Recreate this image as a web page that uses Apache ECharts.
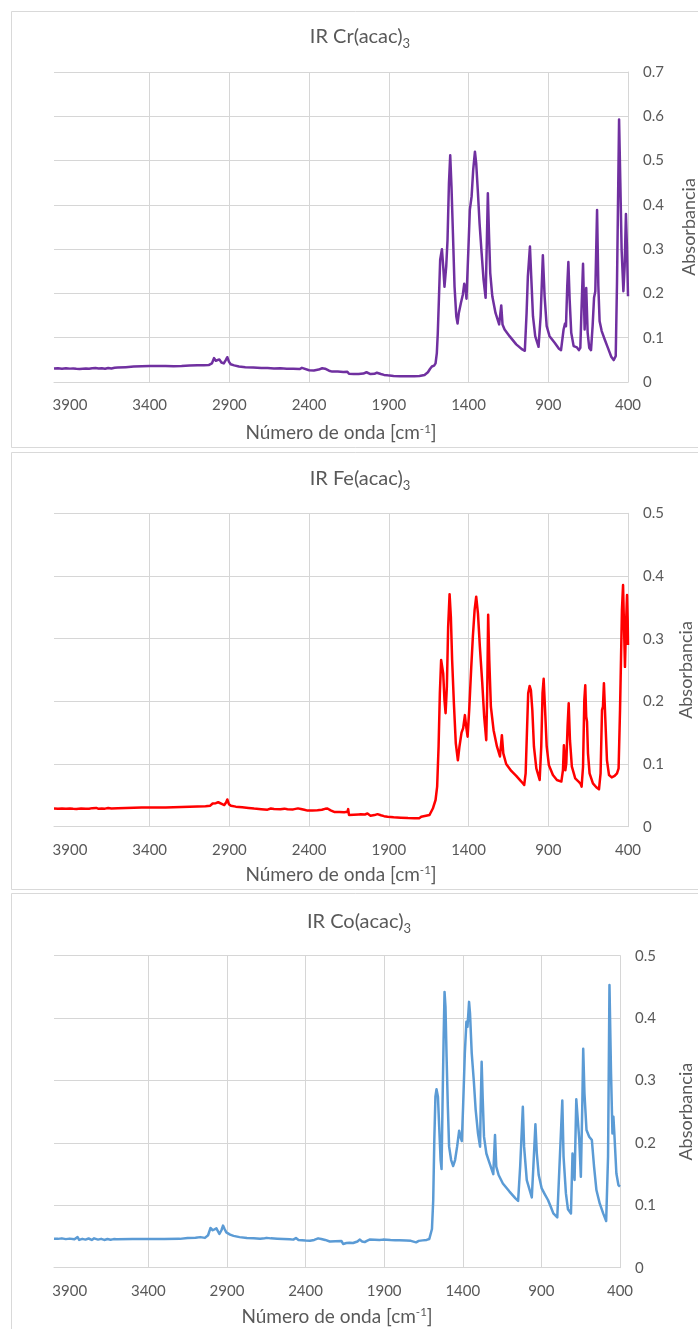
<!DOCTYPE html>
<html>
<head>
<meta charset="utf-8">
<script src="https://cdn.jsdelivr.net/npm/echarts@6/dist/echarts.min.js"></script>
<style>
  html, body { margin: 0; padding: 0; background: #ffffff; }
  #chart { width: 698px; height: 1329px; }
</style>
</head>
<body>
<div id="chart"></div>
<script>
// Wavenumber tick labels shared by the three spectra (cm-1)
const xTickValues = [400, 900, 1400, 1900, 2400, 2900, 3400, 3900];

// Chart titles (rich text: the trailing "3" is a subscript)
const titles = ['IR Cr(acac){sub|3}', 'IR Fe(acac){sub|3}', 'IR Co(acac){sub|3}'];
const xAxisName = 'Número de onda [cm{sup|-1}]';
const yAxisName = 'Absorbancia';

// IR spectrum of Cr(acac)3: [wavenumber cm-1, absorbance]
const crSpectrum = [
  [4000,0.0305],[3975,0.031],[3950,0.030],[3925,0.0308],[3900,0.0302],[3880,0.0305],[3860,0.0298],[3850,0.033],
  [3840,0.0296],[3820,0.030],[3800,0.0305],[3780,0.0298],[3760,0.031],[3740,0.0315],[3730,0.0335],[3720,0.0305],
  [3700,0.0312],[3680,0.030],[3660,0.0318],[3640,0.0305],[3620,0.0322],[3600,0.0325],[3550,0.0335],[3500,0.0348],
  [3450,0.0358],[3400,0.0362],[3350,0.0363],[3300,0.0362],[3250,0.0358],[3200,0.0362],[3150,0.037],[3100,0.0376],
  [3060,0.0378],[3030,0.0383],[3010,0.042],[2996,0.054],[2985,0.048],[2975,0.049],[2963,0.051],[2950,0.044],
  [2935,0.042],[2922,0.050],[2913,0.056],[2903,0.046],[2892,0.040],[2870,0.0375],[2840,0.035],[2800,0.0335],
  [2750,0.0325],[2700,0.0318],[2661,0.0316],[2620,0.0305],[2580,0.0308],[2540,0.030],[2500,0.0298],[2460,0.0292],
  [2445,0.032],[2435,0.0275],[2400,0.0265],[2370,0.0262],[2340,0.028],[2318,0.031],[2300,0.030],[2275,0.0255],
  [2255,0.0235],[2220,0.0235],[2185,0.0228],[2160,0.0232],[2155,0.0265],[2150,0.0185],[2120,0.0182],[2090,0.018],
  [2060,0.019],[2040,0.022],[2030,0.0205],[2015,0.018],[1990,0.0185],[1975,0.021],[1965,0.0195],[1950,0.018],
  [1930,0.016],[1908,0.015],[1870,0.0138],[1830,0.0132],[1780,0.013],[1740,0.0132],[1708,0.0135],[1676,0.016],
  [1655,0.022],[1641,0.030],[1630,0.035],[1616,0.037],[1607,0.042],[1599,0.065],[1593,0.11],[1586,0.186],
  [1578,0.276],[1567,0.300],[1559,0.261],[1551,0.215],[1540,0.261],[1532,0.320],[1523,0.4485],[1515,0.512],
  [1507,0.441],[1498,0.336],[1488,0.216],[1477,0.1485],[1469,0.132],[1461,0.156],[1448,0.1785],[1436,0.197],
  [1427,0.222],[1419,0.210],[1413,0.188],[1402,0.291],[1392,0.3885],[1381,0.4185],[1371,0.4785],[1360,0.520],
  [1352,0.4935],[1341,0.426],[1331,0.3585],[1318,0.291],[1306,0.231],[1293,0.190],[1285,0.321],[1279,0.426],
  [1272,0.336],[1264,0.246],[1251,0.1935],[1231,0.156],[1208,0.130],[1195,0.173],[1187,0.130],[1174,0.1185],
  [1143,0.1035],[1101,0.085],[1063,0.0735],[1047,0.0705],[1036,0.156],[1028,0.2385],[1015,0.306],[1007,0.2385],
  [996,0.1485],[982,0.1035],[961,0.0795],[948,0.1485],[934,0.286],[923,0.1935],[910,0.126],[892,0.1035],
  [860,0.0885],[833,0.075],[820,0.072],[804,0.1185],[795,0.132],[789,0.126],[781,0.216],[774,0.271],
  [766,0.186],[756,0.111],[741,0.081],[720,0.078],[708,0.072],[699,0.077],[691,0.171],[682,0.267],
  [672,0.1185],[662,0.212],[653,0.111],[643,0.077],[632,0.072],[622,0.126],[613,0.190],[605,0.205],
  [594,0.3885],[586,0.216],[578,0.137],[565,0.115],[546,0.096],[526,0.077],[505,0.057],[490,0.0495],
  [477,0.0585],[469,0.2235],[456,0.593],[448,0.4485],[440,0.2985],[429,0.205],[421,0.261],[413,0.3795],
  [406,0.2985],[400,0.1935]
];

// IR spectrum of Fe(acac)3
const feSpectrum = [
  [4000,0.029],[3975,0.0288],[3950,0.0292],[3925,0.0287],[3900,0.029],[3880,0.0285],[3870,0.031],[3860,0.0284],
  [3830,0.0292],[3800,0.0288],[3780,0.0286],[3760,0.0296],[3735,0.030],[3720,0.0285],[3700,0.0292],[3680,0.0288],
  [3660,0.0298],[3640,0.029],[3600,0.0296],[3550,0.030],[3500,0.0303],[3450,0.0305],[3400,0.0306],[3350,0.0307],
  [3300,0.0308],[3250,0.031],[3200,0.0314],[3150,0.0318],[3100,0.0323],[3050,0.0328],[3020,0.0335],[3005,0.037],
  [2996,0.0395],[2985,0.0375],[2970,0.039],[2959,0.040],[2945,0.036],[2932,0.0345],[2920,0.039],[2913,0.0435],
  [2903,0.036],[2890,0.0335],[2860,0.032],[2820,0.031],[2780,0.030],[2745,0.029],[2700,0.028],[2661,0.0272],
  [2640,0.029],[2620,0.0282],[2580,0.0278],[2555,0.0288],[2536,0.0278],[2500,0.0276],[2470,0.0292],[2452,0.0282],
  [2430,0.027],[2410,0.0257],[2380,0.0258],[2348,0.0262],[2320,0.027],[2300,0.0285],[2285,0.029],[2265,0.026],
  [2243,0.0235],[2210,0.0235],[2180,0.0232],[2160,0.0238],[2155,0.028],[2150,0.0188],[2120,0.0192],[2090,0.0196],
  [2076,0.0198],[2050,0.0195],[2034,0.021],[2015,0.0176],[1990,0.0185],[1971,0.020],[1950,0.0182],[1930,0.0168],
  [1908,0.016],[1870,0.015],[1825,0.0144],[1780,0.0138],[1740,0.0135],[1710,0.0133],[1697,0.016],[1645,0.0186],
  [1624,0.029],[1607,0.0426],[1597,0.064],[1588,0.128],[1580,0.213],[1572,0.266],[1567,0.2686],[1559,0.2447],
  [1551,0.202],[1544,0.181],[1536,0.2234],[1528,0.319],[1519,0.371],[1511,0.335],[1503,0.266],[1492,0.197],
  [1480,0.133],[1467,0.106],[1457,0.128],[1444,0.150],[1434,0.157],[1423,0.178],[1415,0.160],[1406,0.1436],
  [1396,0.186],[1383,0.255],[1373,0.303],[1362,0.346],[1352,0.367],[1341,0.340],[1329,0.287],[1314,0.229],
  [1302,0.1755],[1289,0.138],[1283,0.213],[1277,0.338],[1270,0.266],[1260,0.1915],[1243,0.154],[1222,0.128],
  [1203,0.112],[1191,0.146],[1182,0.117],[1164,0.100],[1132,0.089],[1101,0.081],[1069,0.072],[1051,0.0665],
  [1042,0.085],[1034,0.149],[1026,0.213],[1017,0.2245],[1009,0.218],[1000,0.186],[990,0.128],[975,0.093],
  [954,0.0745],[944,0.128],[936,0.213],[929,0.236],[921,0.1915],[910,0.128],[896,0.098],[871,0.0824],
  [846,0.0745],[818,0.072],[808,0.090],[802,0.130],[793,0.090],[787,0.101],[779,0.160],[772,0.197],
  [764,0.138],[752,0.0957],[731,0.077],[710,0.072],[697,0.068],[691,0.064],[682,0.0957],[674,0.202],
  [668,0.2255],[662,0.1755],[657,0.1675],[651,0.117],[641,0.085],[620,0.069],[599,0.063],[582,0.0596],
  [572,0.085],[563,0.186],[557,0.1915],[551,0.229],[542,0.170],[532,0.106],[519,0.0824],[502,0.0787],
  [484,0.081],[469,0.085],[459,0.093],[450,0.186],[444,0.266],[438,0.346],[431,0.3856],[425,0.319],
  [419,0.255],[413,0.319],[406,0.3697],[402,0.330],[400,0.290]
];

// IR spectrum of Co(acac)3
const coSpectrum = [
  [4000,0.0465],[3975,0.0462],[3950,0.047],[3925,0.0458],[3900,0.0466],[3870,0.0455],[3850,0.049],[3840,0.0445],
  [3820,0.0462],[3800,0.045],[3780,0.0468],[3760,0.0445],[3745,0.047],[3733,0.0485],[3720,0.045],[3700,0.0462],
  [3680,0.0445],[3660,0.046],[3640,0.0448],[3620,0.0458],[3600,0.0455],[3500,0.046],[3400,0.046],[3300,0.046],
  [3200,0.0462],[3150,0.0475],[3100,0.048],[3069,0.049],[3040,0.0478],[3020,0.052],[3005,0.0636],[2990,0.060],
  [2980,0.061],[2967,0.063],[2948,0.054],[2935,0.060],[2925,0.0674],[2915,0.062],[2904,0.0567],[2880,0.053],
  [2858,0.051],[2820,0.049],[2773,0.0476],[2730,0.047],[2689,0.0465],[2660,0.0472],[2647,0.0478],[2620,0.047],
  [2580,0.0465],[2541,0.046],[2500,0.0455],[2478,0.045],[2461,0.0476],[2445,0.0445],[2436,0.0438],[2400,0.0435],
  [2372,0.0433],[2345,0.0445],[2320,0.047],[2300,0.046],[2275,0.0445],[2246,0.042],[2210,0.0425],[2172,0.0428],
  [2161,0.038],[2140,0.0395],[2120,0.0398],[2098,0.0396],[2070,0.042],[2056,0.045],[2040,0.042],[2024,0.041],
  [2010,0.043],[1993,0.045],[1960,0.0448],[1930,0.0445],[1908,0.045],[1860,0.0442],[1830,0.044],[1803,0.0438],
  [1760,0.0435],[1730,0.043],[1697,0.0406],[1680,0.043],[1655,0.0438],[1630,0.0445],[1613,0.046],[1604,0.048],
  [1596,0.062],[1588,0.108],[1581,0.205],[1574,0.274],[1567,0.286],[1558,0.274],[1550,0.226],[1541,0.1725],
  [1535,0.158],[1529,0.258],[1522,0.365],[1516,0.442],[1510,0.418],[1503,0.338],[1495,0.258],[1487,0.194],
  [1474,0.1725],[1461,0.163],[1449,0.1725],[1436,0.194],[1423,0.2195],[1415,0.210],[1406,0.203],[1398,0.258],
  [1387,0.3435],[1377,0.394],[1370,0.386],[1360,0.426],[1354,0.4075],[1343,0.3435],[1330,0.300],[1318,0.253],
  [1303,0.215],[1290,0.194],[1286,0.258],[1280,0.330],[1273,0.269],[1265,0.210],[1250,0.183],[1233,0.170],
  [1206,0.150],[1195,0.2126],[1187,0.162],[1172,0.1485],[1145,0.135],[1103,0.122],[1065,0.111],[1048,0.107],
  [1035,0.162],[1018,0.258],[1010,0.194],[993,0.1405],[961,0.1127],[951,0.162],[938,0.2297],[929,0.183],
  [917,0.1485],[898,0.127],[879,0.118],[870,0.119],[858,0.1085],[841,0.098],[824,0.087],[799,0.0807],
  [786,0.1565],[767,0.268],[759,0.178],[744,0.119],[731,0.0935],[712,0.087],[702,0.183],[696,0.183],
  [689,0.1405],[678,0.270],[670,0.271],[659,0.2046],[649,0.1458],[640,0.258],[634,0.351],[626,0.279],
  [613,0.2206],[596,0.210],[579,0.2046],[565,0.162],[550,0.1245],[529,0.103],[507,0.087],[488,0.0748],
  [476,0.178],[467,0.453],[457,0.311],[448,0.215],[442,0.242],[436,0.215],[423,0.151],[410,0.1325],
  [400,0.130]
];

const spectra = [crSpectrum, feSpectrum, coSpectrum];
const lineColors = ['#7030A0', '#FF0000', '#5B9BD5'];
const yMax = [0.7, 0.5, 0.5];

const TEXT = '#595959';
const GRID_LINE = '#d6d6d6';
const FONT = 'Lato, "Open Sans", sans-serif';

// Panel geometry (pixels)
const panels = [
  { frameTop: 11.5, frameH: 436, left: 54, width: 574, top: 72, height: 310,
    titleTop: 24, titleX: 360, xNameGap: 41, yNameGap: 52 },
  { frameTop: 452.5, frameH: 437, left: 54, width: 574, top: 513.3, height: 313.4,
    titleTop: 466, titleX: 360, xNameGap: 38, yNameGap: 49 },
  { frameTop: 893.5, frameH: 500, left: 54, width: 566, top: 955.7, height: 312,
    titleTop: 909, titleX: 359, xNameGap: 39, yNameGap: 57 }
];

const chart = echarts.init(document.getElementById('chart'), null, { renderer: 'canvas' });

const option = {
  animation: false,
  backgroundColor: '#ffffff',
  title: panels.map((p, i) => ({
    text: titles[i],
    left: p.titleX,
    top: p.titleTop,
    padding: 0,
    textAlign: 'center',
    textStyle: {
      color: TEXT, fontFamily: FONT, fontSize: 20, fontWeight: 'normal', lineHeight: 26,
      rich: {
        sub: { color: TEXT, fontFamily: FONT, fontSize: 13, lineHeight: 14, verticalAlign: 'bottom' }
      }
    }
  })),
  graphic: panels.map(p => ({
    type: 'rect',
    z: -10,
    silent: true,
    shape: { x: 11.5, y: p.frameTop, width: 720, height: p.frameH },
    style: { fill: 'none', stroke: '#d9d9d9', lineWidth: 1 }
  })),
  grid: panels.map(p => ({
    left: p.left, top: p.top, width: p.width, height: p.height,
    containLabel: false, outerBoundsMode: 'none'
  })),
  xAxis: panels.map((p, i) => ({
    gridIndex: i,
    type: 'value',
    inverse: true,
    min: 400,
    max: 4000,
    interval: 500,
    name: xAxisName,
    nameLocation: 'middle',
    nameGap: p.xNameGap,
    nameTextStyle: {
      color: TEXT, fontFamily: FONT, fontSize: 19, lineHeight: 20,
      rich: { sup: { color: TEXT, fontFamily: FONT, fontSize: 11.5, lineHeight: 12, verticalAlign: 'top' } }
    },
    axisLine: { show: true, lineStyle: { color: GRID_LINE, width: 1 } },
    axisTick: { show: false, customValues: xTickValues },
    axisLabel: {
      customValues: xTickValues, color: TEXT, fontFamily: FONT, fontSize: 15, margin: 16,
      formatter: v => String(v)
    },
    splitLine: { show: true, showMinLine: true, showMaxLine: false, lineStyle: { color: GRID_LINE, width: 1 } }
  })),
  yAxis: panels.map((p, i) => ({
    gridIndex: i,
    type: 'value',
    position: 'right',
    min: 0,
    max: yMax[i],
    interval: 0.1,
    name: yAxisName,
    nameLocation: 'middle',
    nameRotate: 90,
    nameGap: p.yNameGap,
    nameTextStyle: { color: TEXT, fontFamily: FONT, fontSize: 18 },
    axisLine: { show: true, lineStyle: { color: GRID_LINE, width: 1 } },
    axisTick: { show: false },
    axisLabel: { color: TEXT, fontFamily: FONT, fontSize: 15, margin: 15 },
    splitLine: { show: true, lineStyle: { color: GRID_LINE, width: 1 } }
  })),
  series: spectra.map((data, i) => ({
    type: 'line',
    xAxisIndex: i,
    yAxisIndex: i,
    data: data,
    showSymbol: false,
    symbol: 'none',
    silent: true,
    clip: true,
    lineStyle: { color: lineColors[i], width: 2.5, join: 'round' },
    itemStyle: { color: lineColors[i] }
  }))
};

chart.setOption(option);
</script>
</body>
</html>
